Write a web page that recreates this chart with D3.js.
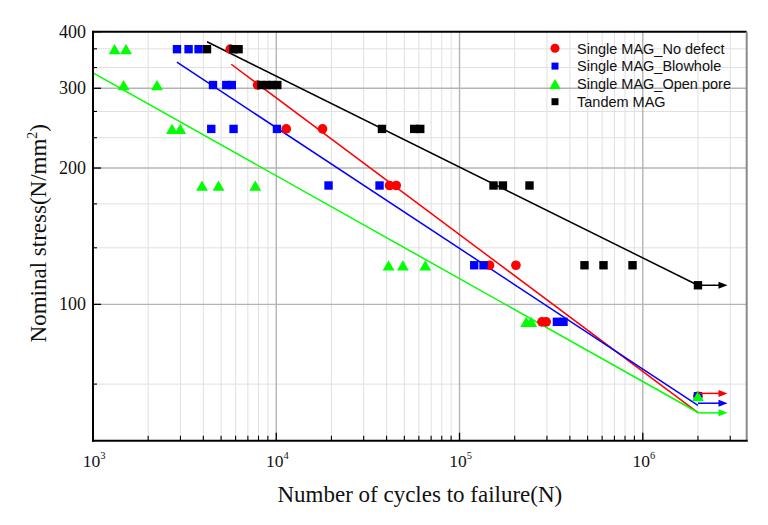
<!DOCTYPE html>
<html><head><meta charset="utf-8">
<script src="https://cdn.jsdelivr.net/npm/d3@7"></script>
<style>body{margin:0;background:#fff;} svg{display:block}</style>
</head><body><svg id="c" width="768" height="525"></svg>
<script>
// ---------------- data ----------------
const seriesNames = ["Single MAG_No defect", "Single MAG_Blowhole", "Single MAG_Open pore", "Tandem MAG"];
const seriesColors = ["#ff0000", "#0000ff", "#00ff00", "#000000"];
const seriesShapes = ["circle", "square", "triangle", "square"];

// [cycles to failure N, nominal stress S]
const noDefect = [[5610,366],[7907,305],[11340,244],[17890,244],[41500,183],[45150,183],
  [145800,122],[203100,122],[281600,91.5],[297200,91.5],[2e6,62.7]];
const blowhole = [[2873,366],[3323,366],[3767,366],[4515,305],[5337,305],[5719,305],
  [4419,244],[5848,244],[10090,244],[19290,183],[36610,183],[120300,122],[135200,122],
  [340000,91.5],[369300,91.5],[2e6,62.7]];
const openPore = [[1312,366],[1514,366],[1469,305],[2235,305],[2698,244],[2994,244],
  [3933,183],[4842,183],[7683,183],[41000,122],[49100,122],[65020,122],[231200,91.5],
  [246200,91.5],[2e6,62.7]];
const tandem = [[4188,366],[5827,366],[6228,366],[8285,305],[8876,305],[9510,305],[10130,305],
  [37730,244],[56600,244],[61050,244],[153300,183],[172500,183],[240900,183],
  [480800,122],[610400,122],[879000,122],[2e6,110.2]];

// fitted S-N lines: [start, end]
const noDefectFit = [[5680,339],[2e6,57.7]];
const blowholeFit = [[2870,342.5],[2e6,59.8]];
const openPoreFit = [[1000,324.5],[2e6,57.7]];
const tandemFit = [[4190,380],[2e6,110.2]];

// run-out arrows: [from N, to N, S]
const noDefectRunout = [2e6, 2.9e6, 63.6];
const blowholeRunout = [2e6, 2.9e6, 60.5];
const openPoreRunout = [2e6, 2.9e6, 57.6];
const tandemRunout = [2e6, 2.9e6, 110.2];

const xMajorTicks = [1e3, 1e4, 1e5, 1e6];
const xTickExponents = ["3", "4", "5", "6"];
const yMajorTicks = [100, 200, 300, 400];
const yMinorTicks = [66.67, 133.33, 166.67, 233.33, 266.67, 333.33, 366.67];
const xDomain = [1e3, 3.69e6];
const yDomain = [50, 400];

const xTitle = "Number of cycles to failure(N)";
const yTitle = "Nominal stress(N/mm";

// ---------------- drawing ----------------
const svg = d3.select("#c");
const L = 93, R = 746.7, T = 31.7, B = 440.7;
const x = d3.scaleLog().domain(xDomain).range([L, R]);
const y = d3.scaleLog().domain(yDomain).range([B, T]);

const xMinor = [];
for (let e = 3; e <= 6; e++) for (let k = 2; k <= 9; k++) {
  const v = k * Math.pow(10, e);
  if (v < xDomain[1]) xMinor.push(v);
}

const g = svg.append("g");
// minor grid
g.selectAll(".gxm").data(xMinor).join("line")
  .attr("x1", d => x(d)).attr("x2", d => x(d)).attr("y1", T).attr("y2", B)
  .attr("stroke", "#e0e0e0").attr("stroke-width", 1);
g.selectAll(".gym").data(yMinorTicks).join("line")
  .attr("x1", L).attr("x2", R).attr("y1", d => y(d)).attr("y2", d => y(d))
  .attr("stroke", "#e0e0e0").attr("stroke-width", 1);
// major grid
g.selectAll(".gx").data(xMajorTicks.slice(1)).join("line")
  .attr("x1", d => x(d)).attr("x2", d => x(d)).attr("y1", T).attr("y2", B)
  .attr("stroke", "#b4b4b4").attr("stroke-width", 1.4);
g.selectAll(".gy").data(yMajorTicks.slice(0, 3)).join("line")
  .attr("x1", L).attr("x2", R).attr("y1", d => y(d)).attr("y2", d => y(d))
  .attr("stroke", "#b4b4b4").attr("stroke-width", 1.4);

// fit lines
const fits = [noDefectFit, blowholeFit, openPoreFit, tandemFit];
const line = d3.line().x(d => x(d[0])).y(d => y(d[1]));
fits.forEach((f, i) => {
  svg.append("path").attr("d", line(f)).attr("fill", "none")
    .attr("stroke", seriesColors[i]).attr("stroke-width", 1.5);
});

function shapePath(shape, size) {
  if (shape === "circle") {
    const r = size / 2;
    return `M${-r},0A${r},${r} 0 1,0 ${r},0A${r},${r} 0 1,0 ${-r},0Z`;
  }
  if (shape === "square") {
    const h = size / 2;
    return `M${-h},${-h}H${h}V${h}H${-h}Z`;
  }
  const w = size * 1.1 / 2, hh = size * 0.95 / 2;
  return `M0,${-hh}L${w},${hh}L${-w},${hh}Z`;
}
const markerSize = { circle: 9.6, square: 8.4, triangle: 10.8 };

// points
const allSeries = [noDefect, blowhole, openPore, tandem];
allSeries.forEach((data, i) => {
  const sh = seriesShapes[i];
  svg.append("g").selectAll("path").data(data).join("path")
    .attr("transform", d => `translate(${x(d[0])},${y(d[1])})`)
    .attr("d", shapePath(sh, markerSize[sh]))
    .attr("fill", seriesColors[i]);
});

// run-out arrows
const runouts = [noDefectRunout, blowholeRunout, openPoreRunout, tandemRunout];
runouts.forEach((r, i) => {
  const x0 = x(r[0]), x1 = x(r[1]), yy = y(r[2]);
  svg.append("line").attr("x1", x0).attr("x2", x1 - 7).attr("y1", yy).attr("y2", yy)
    .attr("stroke", seriesColors[i]).attr("stroke-width", 1.5);
  svg.append("path").attr("d", `M${x1},${yy}L${x1 - 9},${yy - 3.5}L${x1 - 9},${yy + 3.5}Z`)
    .attr("fill", seriesColors[i]);
});

// frame
svg.append("line").attr("x1", L).attr("x2", R).attr("y1", T).attr("y2", T).attr("stroke", "#000").attr("stroke-width", 2);
svg.append("line").attr("x1", R).attr("x2", R).attr("y1", T).attr("y2", B).attr("stroke", "#8a8a8a").attr("stroke-width", 2);
svg.append("line").attr("x1", L).attr("x2", L).attr("y1", T - 1).attr("y2", B + 1).attr("stroke", "#000").attr("stroke-width", 2);
svg.append("line").attr("x1", L - 1).attr("x2", R + 1).attr("y1", B).attr("y2", B).attr("stroke", "#000").attr("stroke-width", 2);

// ticks (inward)
svg.append("g").selectAll("line").data(xMajorTicks.slice(1)).join("line")
  .attr("x1", d => x(d)).attr("x2", d => x(d)).attr("y1", B).attr("y2", B - 8)
  .attr("stroke", "#000").attr("stroke-width", 1.3);
svg.append("g").selectAll("line").data(xMinor).join("line")
  .attr("x1", d => x(d)).attr("x2", d => x(d)).attr("y1", B).attr("y2", B - 5)
  .attr("stroke", "#000").attr("stroke-width", 1.1);
svg.append("g").selectAll("line").data(yMajorTicks).join("line")
  .attr("x1", L).attr("x2", L + 8).attr("y1", d => y(d)).attr("y2", d => y(d))
  .attr("stroke", "#000").attr("stroke-width", 1.3);
svg.append("g").selectAll("line").data(yMinorTicks).join("line")
  .attr("x1", L).attr("x2", L + 4).attr("y1", d => y(d)).attr("y2", d => y(d))
  .attr("stroke", "#000").attr("stroke-width", 1.1);

// tick labels
const serif = "'Liberation Serif','Times New Roman',serif";
svg.append("g").selectAll("text").data(yMajorTicks).join("text")
  .attr("x", 86).attr("y", d => y(d) + 6)
  .attr("text-anchor", "end").attr("font-family", serif).attr("font-size", 18)
  .attr("fill", "#111").text(d => d);
const xl = svg.append("g").selectAll("text").data(xMajorTicks).join("text")
  .attr("x", d => x(d) + 1).attr("y", 466.5)
  .attr("text-anchor", "middle").attr("font-family", serif).attr("font-size", 17.5)
  .attr("fill", "#111");
xl.append("tspan").text("10");
xl.append("tspan").attr("dy", -8).attr("font-size", 10.5).text((d, i) => xTickExponents[i]);

// axis titles
svg.append("text").attr("x", (L + R) / 2).attr("y", 502)
  .attr("text-anchor", "middle").attr("font-family", serif).attr("font-size", 23)
  .attr("fill", "#111").text(xTitle);
const yt = svg.append("text").attr("transform", `translate(46,${(T + B) / 2 - 3}) rotate(-90)`)
  .attr("text-anchor", "middle").attr("font-family", serif).attr("font-size", 23)
  .attr("fill", "#111");
yt.append("tspan").text(yTitle);
yt.append("tspan").attr("dy", -9).attr("font-size", 14).text("2");
yt.append("tspan").attr("dy", 9).text(")");

// legend
const sans = "'Liberation Sans',Arial,sans-serif";
const lg = svg.append("g");
const legendMarkerSize = { circle: 9, square: 7, triangle: 10.5 };
seriesNames.forEach((n, i) => {
  const cy = 48.3 + i * 17.8;
  const sh = seriesShapes[i];
  lg.append("path").attr("transform", `translate(555,${cy})`)
    .attr("d", shapePath(sh, legendMarkerSize[sh])).attr("fill", seriesColors[i]);
  lg.append("text").attr("x", 577).attr("y", cy + 5.2)
    .attr("font-family", sans).attr("font-size", 14.5).attr("fill", "#111").text(n);
});
</script>
</body></html>
